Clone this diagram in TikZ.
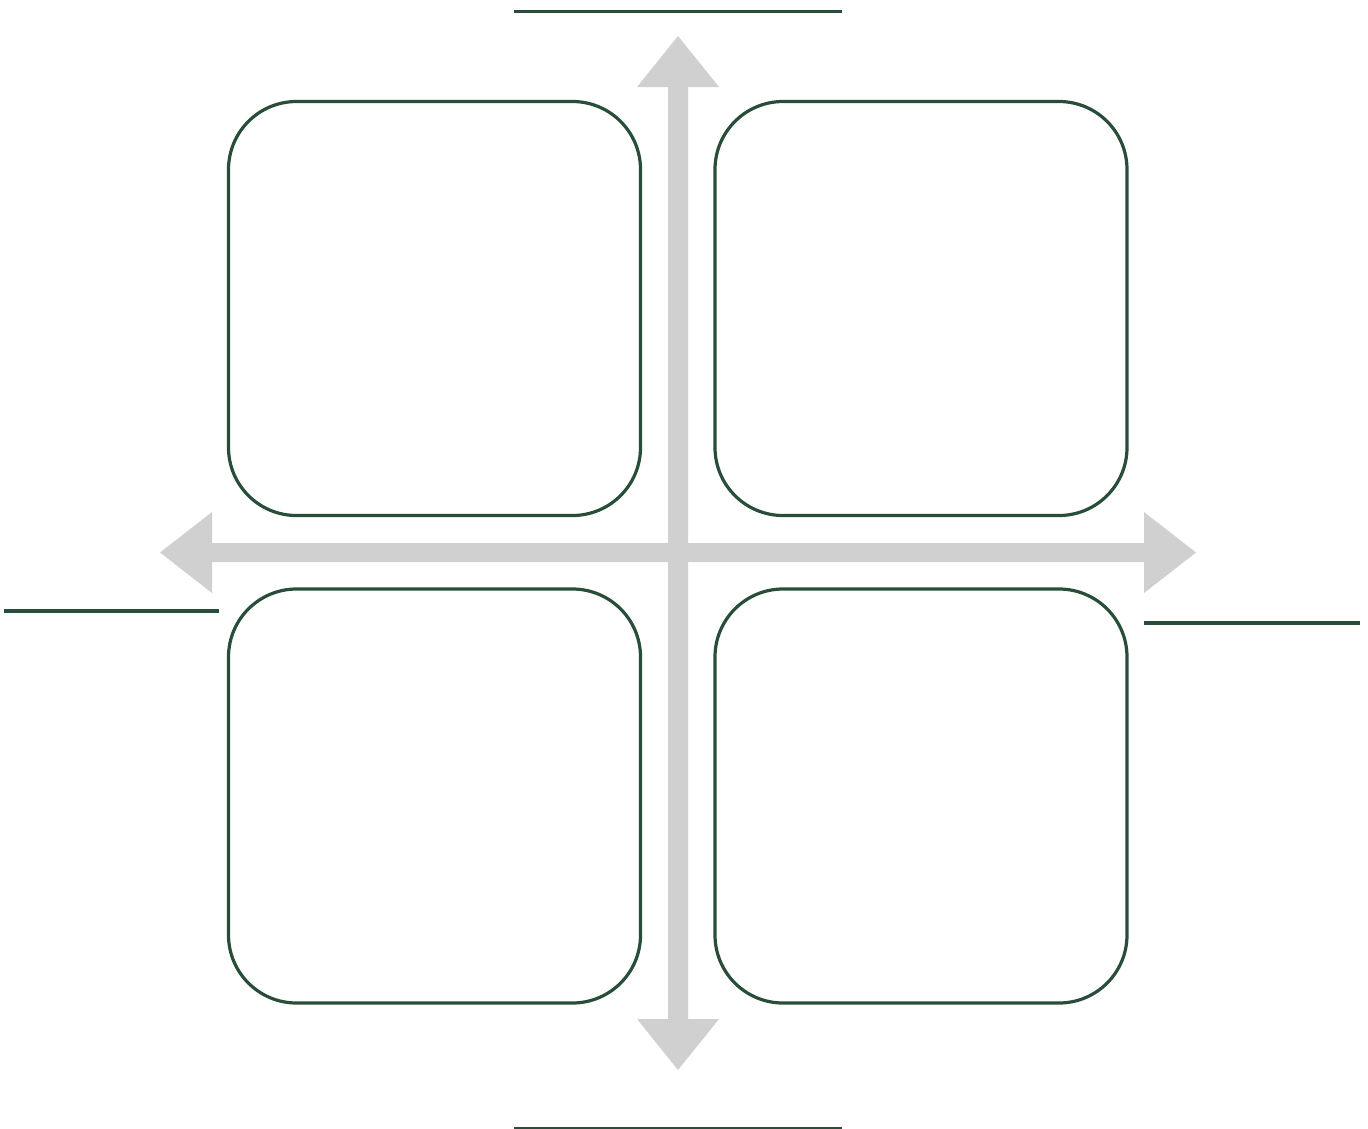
\documentclass[tikz,border=0pt]{standalone}
\definecolor{dkgreen}{RGB}{40,78,58}
\definecolor{axisgray}{RGB}{207,208,207}
\begin{document}
\begin{tikzpicture}[x=1pt,y=-1pt,
  quadbox/.style={draw=dkgreen,line width=3.2pt,rounded corners=68pt,minimum width=412pt,minimum height=414pt,inner sep=0pt,fill=white},
  labelline/.style={draw=dkgreen,line width=3.5pt},
  axisfill/.style={fill=axisgray,draw=none}]
\useasboundingbox (0,0) rectangle (1368,1128);
% axes
\fill[axisfill] (668,87) -- (637,87) -- (678,36) -- (719,87) -- (688,87) -- (688,1019) -- (719,1019) -- (678,1070) -- (637,1019) -- (668,1019) -- cycle;
\fill[axisfill] (212,543) -- (212,512) -- (160,552.5) -- (212,593) -- (212,562) -- (1144,562) -- (1144,593) -- (1196,552.5) -- (1144,512) -- (1144,543) -- cycle;
% quadrant boxes
\node[quadbox] (tl) at (434.5,308.5) {};
\node[quadbox] (tr) at (921,308.5) {};
\node[quadbox] (bl) at (434.5,796) {};
\node[quadbox] (br) at (921,796) {};
% label lines
\coordinate (topA) at (514,11.5); \coordinate (topB) at (842,11.5);
\coordinate (leftA) at (4,611); \coordinate (leftB) at (219,611);
\coordinate (rightA) at (1144,623); \coordinate (rightB) at (1360,623);
\coordinate (botA) at (514,1128.5); \coordinate (botB) at (842,1128.5);
\draw[labelline] (topA) -- (topB);
\draw[labelline] (leftA) -- (leftB);
\draw[labelline] (rightA) -- (rightB);
\draw[labelline] (botA) -- (botB);
\end{tikzpicture}
\end{document}
